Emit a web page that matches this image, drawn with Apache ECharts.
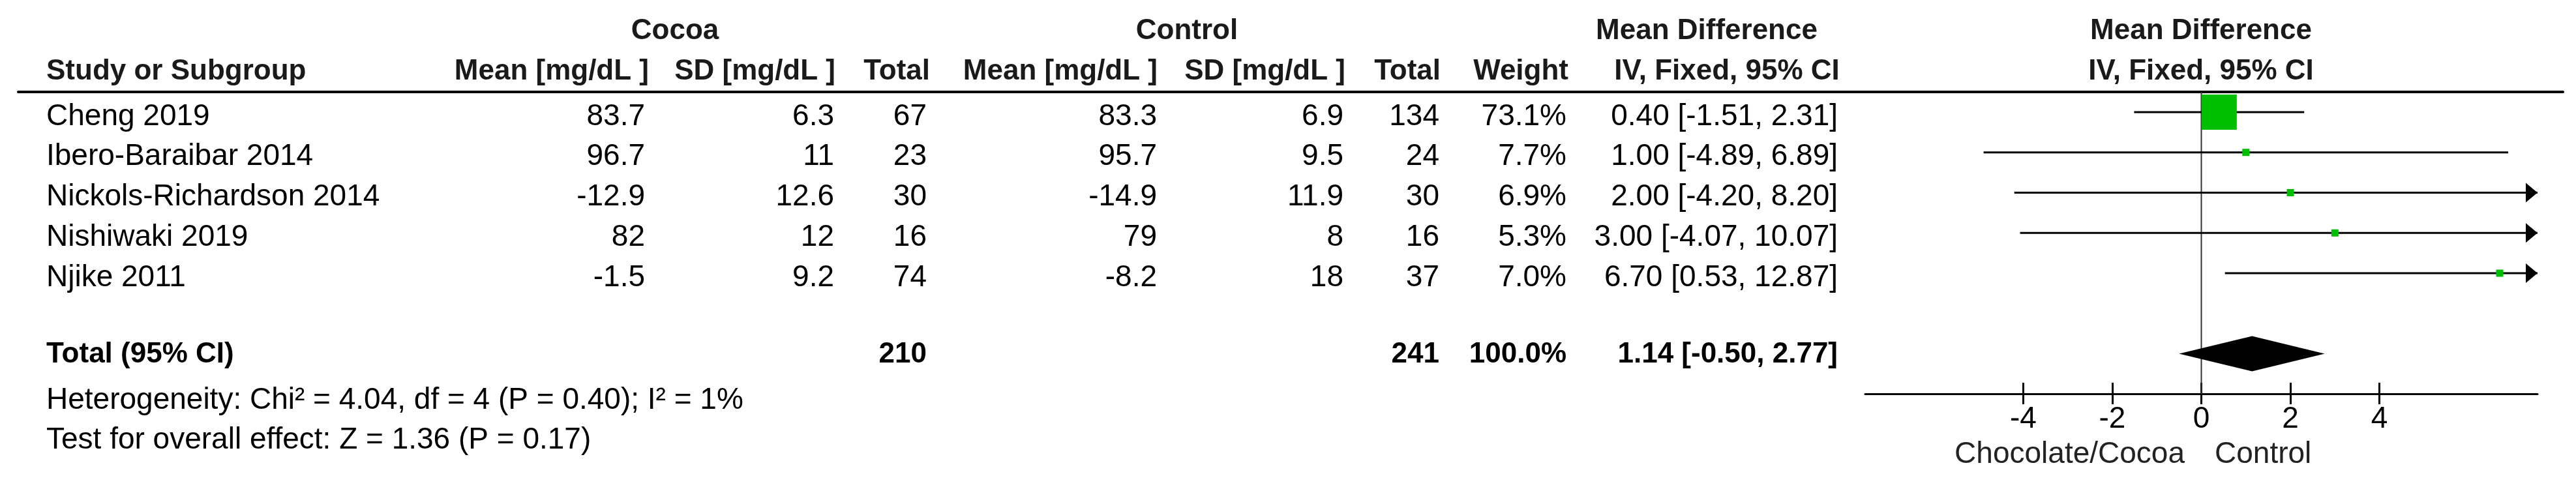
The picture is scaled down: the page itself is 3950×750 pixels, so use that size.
<!DOCTYPE html>
<html><head><meta charset="utf-8">
<script src="https://cdn.jsdelivr.net/npm/echarts@6/dist/echarts.min.js"></script>
<style>html,body{margin:0;padding:0;background:#fff}#c{width:3950px;height:750px}</style>
</head><body><div id="c"></div>
<script>
// ---------- data ----------
const studies   = ['Cheng 2019', 'Ibero-Baraibar 2014', 'Nickols-Richardson 2014', 'Nishiwaki 2019', 'Njike 2011'];
const cocoaMean = [83.7, 96.7, -12.9, 82, -1.5];
const cocoaSD   = [6.3, 11, 12.6, 12, 9.2];
const cocoaN    = [67, 23, 30, 16, 74];
const ctrlMean  = [83.3, 95.7, -14.9, 79, -8.2];
const ctrlSD    = [6.9, 9.5, 11.9, 8, 18];
const ctrlN     = [134, 24, 30, 16, 37];
const weights   = [73.1, 7.7, 6.9, 5.3, 7.0];
const md        = [0.40, 1.00, 2.00, 3.00, 6.70];
const ciLow     = [-1.51, -4.89, -4.20, -4.07, 0.53];
const ciHigh    = [2.31, 6.89, 8.20, 10.07, 12.87];
const totalLabel = 'Total (95% CI)';
const totalCocoaN = 210;
const totalCtrlN  = 241;
const totalWeight = 100.0;
const totalMd  = 1.14;
const totalLow = -0.50;
const totalHigh = 2.77;
const tickValues = [-4, -2, 0, 2, 4];
const heterogeneityText = 'Heterogeneity: Chi\u00b2 = 4.04, df = 4 (P = 0.40); I\u00b2 = 1%';
const overallText = 'Test for overall effect: Z = 1.36 (P = 0.17)';
const favoursLeft = 'Chocolate/Cocoa';
const favoursRight = 'Control';

// ---------- layout ----------
const FONT = '"Liberation Sans", Arial, sans-serif';
const REG = '46px ' + FONT;
const BOLD = 'bold 44px ' + FONT;
const xMin = -7.55, xMax = 7.55;
const yMin = 0.498, yMax = 7.996;
const totalRow = 7;
const colX = {name: 71, cMean: 989, cSD: 1279, cN: 1421, kMean: 1774, kSD: 2060, kN: 2207, w: 2402, ci: 2818};

const fmt2 = v => v.toFixed(2);
const ciText = (m, l, h) => fmt2(m) + ' [' + fmt2(l) + ', ' + fmt2(h) + ']';

function txt(s, x, y, align, font, fill) {
  return {type: 'text', style: {text: String(s), x: x, y: y, align: align, verticalAlign: 'middle', font: font, fill: fill || '#000'}};
}

// table rows
const tableData = studies.map((s, i) => [28, i + 1, i]).concat([[28, totalRow, -1]]);
function renderTable(params, api) {
  const i = api.value(2);
  const y0 = api.coord([api.value(0), api.value(1)])[1];
  if (i >= 0) {
    const y = y0 + 7;
    return {type: 'group', children: [
      txt(studies[i], colX.name, y, 'left', REG),
      txt(cocoaMean[i], colX.cMean, y, 'right', REG),
      txt(cocoaSD[i], colX.cSD, y, 'right', REG),
      txt(cocoaN[i], colX.cN, y, 'right', REG),
      txt(ctrlMean[i], colX.kMean, y, 'right', REG),
      txt(ctrlSD[i], colX.kSD, y, 'right', REG),
      txt(ctrlN[i], colX.kN, y, 'right', REG),
      txt(weights[i].toFixed(1) + '%', colX.w, y, 'right', REG),
      txt(ciText(md[i], ciLow[i], ciHigh[i]), colX.ci, y, 'right', REG)
    ]};
  }
  const y = y0 + 1;
  return {type: 'group', children: [
    txt(totalLabel, colX.name, y, 'left', BOLD),
    txt(totalCocoaN, colX.cN, y, 'right', BOLD),
    txt(totalCtrlN, colX.kN, y, 'right', BOLD),
    txt(totalWeight.toFixed(1) + '%', colX.w, y, 'right', BOLD),
    txt(ciText(totalMd, totalLow, totalHigh), colX.ci, y, 'right', BOLD)
  ]};
}

// forest marks
const forestData = studies.map((s, i) => [md[i], i + 1, ciLow[i], ciHigh[i], weights[i], 0])
  .concat([[totalMd, totalRow, totalLow, totalHigh, totalWeight, 1]]);
function renderForest(params, api) {
  const m = api.value(0), row = api.value(1), lo = api.value(2), hi = api.value(3), w = api.value(4), kind = api.value(5);
  const c = api.coord([m, row]);
  if (kind === 1) {
    const l = api.coord([lo, row])[0], r = api.coord([hi, row])[0];
    return {type: 'polygon', shape: {points: [[l, c[1]], [c[0], c[1] - 27], [r, c[1]], [c[0], c[1] + 27]]}, style: {fill: '#000'}};
  }
  const l = api.coord([Math.max(lo, xMin), row])[0];
  const r = api.coord([Math.min(hi, xMax), row])[0];
  const children = [{type: 'line', shape: {x1: l, y1: c[1], x2: r, y2: c[1]}, style: {stroke: '#000', lineWidth: 3}}];
  if (hi > xMax) children.push({type: 'polygon', shape: {points: [[r, c[1]], [r - 18, c[1] - 15], [r - 18, c[1] + 15]]}, style: {fill: '#000'}});
  if (lo < xMin) children.push({type: 'polygon', shape: {points: [[l, c[1]], [l + 18, c[1] - 15], [l + 18, c[1] + 15]]}, style: {fill: '#000'}});
  const s = Math.max(11, 54 * w / 73.1);
  children.push({type: 'rect', shape: {x: c[0] - s / 2, y: c[1] - s / 2, width: s, height: s}, style: {fill: '#00BF00'}});
  return {type: 'group', children: children};
}

function gtext(s, x, y, align, font, fill) {
  return {type: 'text', x: x, y: y, silent: true, style: {text: s, align: align, verticalAlign: 'middle', font: font, fill: fill || '#000'}};
}
const HC = '#1a1a1a';
const graphics = [
  gtext('Cocoa', 1035, 48, 'center', BOLD, HC),
  gtext('Control', 1820, 48, 'center', BOLD, HC),
  gtext('Mean Difference', 2617, 48, 'center', BOLD, HC),
  gtext('Mean Difference', 3375, 48, 'center', BOLD, HC),
  gtext('Study or Subgroup', 71, 110, 'left', BOLD, HC),
  gtext('Mean [mg/dL ]', 995, 110, 'right', BOLD, HC),
  gtext('SD [mg/dL ]', 1281, 110, 'right', BOLD, HC),
  gtext('Total', 1426, 110, 'right', BOLD, HC),
  gtext('Mean [mg/dL ]', 1775, 110, 'right', BOLD, HC),
  gtext('SD [mg/dL ]', 2063, 110, 'right', BOLD, HC),
  gtext('Total', 2209, 110, 'right', BOLD, HC),
  gtext('Weight', 2405, 110, 'right', BOLD, HC),
  gtext('IV, Fixed, 95% CI', 2648, 110, 'center', BOLD, HC),
  gtext('IV, Fixed, 95% CI', 3375, 110, 'center', BOLD, HC),
  gtext(heterogeneityText, 71, 614, 'left', REG),
  gtext(overallText, 71, 675, 'left', REG),
  gtext(favoursLeft, 3350, 697, 'right', REG, '#222'),
  gtext(favoursRight, 3396, 697, 'left', REG, '#222')
];

const chart = echarts.init(document.getElementById('c'), null, {renderer: 'canvas'});
chart.setOption({
  animation: false,
  backgroundColor: '#fff',
  grid: [
    {left: 28, right: 20, top: 141, height: 463, outerBoundsMode: 'none', containLabel: false},
    {left: 2860, width: 1031, top: 141, height: 463, outerBoundsMode: 'none', containLabel: false}
  ],
  xAxis: [
    {gridIndex: 0, type: 'value', min: 28, max: 3930, position: 'top',
      axisLine: {show: true, onZero: false, lineStyle: {color: '#000', width: 4}},
      axisTick: {show: false}, axisLabel: {show: false}, splitLine: {show: false}},
    {gridIndex: 1, type: 'value', min: xMin, max: xMax, position: 'bottom',
      axisLine: {show: true, onZero: false, lineStyle: {color: '#000', width: 3}},
      axisTick: {show: true, inside: true, length: 17, customValues: tickValues, lineStyle: {color: '#000', width: 3}},
      axisLabel: {show: false}, splitLine: {show: false}},
    {gridIndex: 1, type: 'value', min: xMin, max: xMax, position: 'bottom',
      axisLine: {show: false, onZero: false},
      axisTick: {show: true, inside: false, length: 16, customValues: tickValues, lineStyle: {color: '#000', width: 3}},
      axisLabel: {show: true, customValues: tickValues, margin: 16, fontSize: 46, fontFamily: FONT, color: '#000'},
      splitLine: {show: false}}
  ],
  yAxis: [
    {gridIndex: 0, type: 'value', inverse: true, min: yMin, max: yMax, show: false},
    {gridIndex: 1, type: 'value', inverse: true, min: yMin, max: yMax, show: false}
  ],
  graphic: {elements: graphics},
  series: [
    {type: 'line', xAxisIndex: 1, yAxisIndex: 1, data: [[0, yMin], [0, yMax]], showSymbol: false, silent: true,
      lineStyle: {color: '#333', width: 2}, z: 1},
    {type: 'custom', xAxisIndex: 1, yAxisIndex: 1, data: forestData, renderItem: renderForest, z: 3, silent: true},
    {type: 'custom', xAxisIndex: 0, yAxisIndex: 0, data: tableData, renderItem: renderTable, z: 3, silent: true}
  ]
});
</script>
</body></html>
